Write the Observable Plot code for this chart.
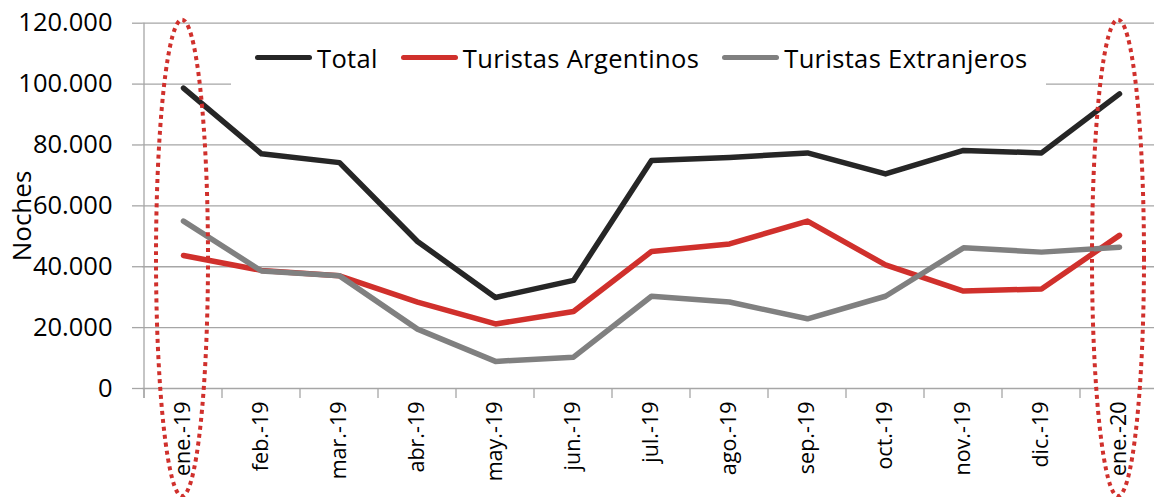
<!DOCTYPE html>
<html><head><meta charset="utf-8">
<script src="https://cdn.jsdelivr.net/npm/d3@7"></script>
<script src="https://cdn.jsdelivr.net/npm/@observablehq/plot@0.6"></script>
<style>
body{margin:0;background:#fff;}
#wrap{position:relative;width:1154px;height:497px;font-family:"Open Sans",sans-serif;}
#legend{position:absolute;left:231px;top:30px;width:815px;height:55px;background:#fff;display:flex;align-items:center;padding-left:24px;box-sizing:border-box;font-size:25.5px;letter-spacing:0.35px;color:#000;}
.sw{width:57px;height:5.5px;border-radius:3px;margin-right:5px;}
.it{display:flex;align-items:center;margin-right:23px;white-space:nowrap;}
</style></head><body><div id="wrap"></div>
<script>
const months = ["ene.-19","feb.-19","mar.-19","abr.-19","may.-19","jun.-19","jul.-19","ago.-19","sep.-19","oct.-19","nov.-19","dic.-19","ene.-20"];
const total = [98700, 77100, 74200, 48300, 29900, 35500, 74900, 75900, 77400, 70500, 78200, 77400, 96800];
const argentinos = [43700, 38800, 37000, 28400, 21200, 25300, 45000, 47500, 55000, 40600, 32000, 32700, 50300];
const extranjeros = [55000, 38600, 37000, 19500, 8900, 10300, 30300, 28400, 22900, 30300, 46200, 44800, 46400];
const seriesNames = ["Total", "Turistas Argentinos", "Turistas Extranjeros"];
const seriesColors = ["#262626", "#d0302c", "#808080"];
const yTicks = [0, 20000, 40000, 60000, 80000, 100000, 120000];
const yLabel = "Noches";
const highlighted = ["ene.-19", "ene.-20"];
const highlightSpan = [121000, -35500];

const seriesValues = [total, argentinos, extranjeros];
const data = seriesNames.flatMap((s, k) => months.map((m, i) => ({month: m, value: seriesValues[k][i], series: s})));
const fmt = d => d3.format(",")(d).replace(/,/g, ".");

function bandwidthOf(x) {
  return typeof x.bandwidth === "function" ? x.bandwidth() : x.bandwidth;
}

function frameDecor(index, scales) {
  const x = scales.x, y = scales.y, bw = bandwidthOf(x);
  const y0 = y(0);
  const bounds = months.map(m => x(m)).concat([x(months[months.length - 1]) + bw]);
  const g = d3.create("svg:g").attr("stroke", "#a6a6a6").attr("stroke-width", 1.3);
  g.selectAll("line.t").data(bounds).join("line").attr("class", "t")
    .attr("x1", d => d).attr("x2", d => d).attr("y1", y0).attr("y2", y0 + 10);
  g.append("line").attr("x1", bounds[0]).attr("x2", bounds[0])
    .attr("y1", y(yTicks[yTicks.length - 1])).attr("y2", y0 + 10);
  return g.node();
}

function highlights(index, scales) {
  const x = scales.x, y = scales.y, bw = bandwidthOf(x);
  const top = y(highlightSpan[0]), bot = y(highlightSpan[1]);
  const g = d3.create("svg:g");
  g.selectAll("ellipse").data(highlighted).join("ellipse")
    .attr("cx", m => x(m) + bw / 2 - 1)
    .attr("cy", (top + bot) / 2)
    .attr("rx", 26)
    .attr("ry", Math.abs(bot - top) / 2)
    .attr("fill", "none").attr("stroke", "#d0302c")
    .attr("stroke-width", 4).attr("stroke-dasharray", "4 4");
  return g.node();
}

const chart = Plot.plot({
  width: 1154, height: 497,
  marginLeft: 142, marginRight: 0, marginTop: 22, marginBottom: 109,
  style: {fontFamily: "'Open Sans', sans-serif", background: "white", color: "black", overflow: "visible"},
  x: {type: "band", domain: months, range: [142, 1159], padding: 0},
  y: {domain: [0, 120000], range: [388, 22.7]},
  color: {domain: seriesNames, range: seriesColors},
  marks: [
    Plot.gridY(yTicks, {stroke: "#a6a6a6", strokeOpacity: 1, strokeWidth: 1.3}),
    Plot.axisY(yTicks, {tickSize: 10, tickPadding: 20, stroke: "#a6a6a6", strokeWidth: 1.3, fontSize: 25.5, tickFormat: fmt, label: null, fill: "black"}),
    Plot.axisX({tickSize: 0, tickPadding: 13, tickRotate: -90, fontSize: 21.5, label: null, fill: "black"}),
    frameDecor,
    Plot.line(data, {x: "month", y: "value", z: "series", stroke: "series", strokeWidth: 5.5, strokeLinejoin: "round", strokeLinecap: "round"}),
    Plot.text([yLabel], {frameAnchor: "left", text: d => d, rotate: -90, textAnchor: "middle", dx: -120, dy: 10.5, fontSize: "26px", lineAnchor: "middle", fill: "black"}),
    highlights
  ]
});

const wrap = document.getElementById("wrap");
wrap.appendChild(chart);
const legend = d3.select(wrap).append("div").attr("id", "legend");
const items = legend.selectAll("div.it").data(seriesNames).join("div").attr("class", "it");
items.append("div").attr("class", "sw").style("background", (d, i) => seriesColors[i]);
items.append("span").text(d => d);
</script>
</body></html>
